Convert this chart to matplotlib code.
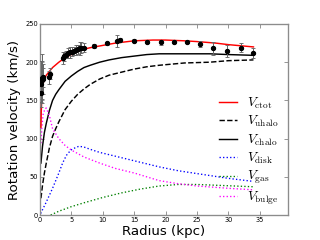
import matplotlib
matplotlib.use('Agg')
import matplotlib.pyplot as plt

plt.rcParams.update({
    'font.family': 'DejaVu Sans',
    'mathtext.fontset': 'cm',
    'axes.edgecolor': '0.55',
    'xtick.color': '0.55',
    'ytick.color': '0.55',
    'xtick.labelcolor': 'black',
    'ytick.labelcolor': 'black',
})

# observed rotation curve (radius kpc, velocity km/s, error)
obs_r = [0.16, 0.22, 0.28, 0.34, 0.42, 0.55, 1.4, 1.6,
         3.6, 3.9, 4.2, 4.5, 4.8, 5.1, 5.4, 5.7, 6.0, 6.3, 6.6, 7.0,
         8.6, 10.6, 12.2, 12.8, 14.9, 17.0, 19.2, 21.3, 23.4, 25.5,
         27.6, 29.8, 32.0, 34.0]
obs_v = [160, 172, 179, 177, 178, 180, 180, 185,
         206, 208, 210, 212, 213, 214, 215, 216, 217, 218, 219, 219,
         221, 225, 228, 229, 228, 227, 226, 227, 227, 224,
         218, 215, 219, 212]
obs_e = [12, 30, 32, 25, 20, 12, 8, 7,
         8, 6, 5, 6, 7, 6, 5, 7, 6, 8, 7, 6,
         3, 2, 8, 3, 2, 2, 3, 2, 2, 4,
         8, 8, 6, 7]

# model components
r_tot = [0.15, 0.2, 0.3, 0.4, 0.6, 1.0, 1.5, 2, 3, 4, 5, 6, 7, 8, 10, 12, 15,
         18, 20, 23, 25, 28, 30, 34]
v_ctot = [115, 135, 155, 167, 176, 183, 188, 193, 200, 206, 210, 214, 217, 219,
          222, 225, 228, 229, 229, 228, 227, 225, 223, 220]

r_halo = [0.15, 0.4, 0.7, 1.0, 1.5, 2, 2.5, 3, 4, 5, 6, 7, 8, 9.5, 11, 13,
          15, 17, 19, 23, 27, 30, 34]
v_uhalo = [22, 39, 55, 68, 88, 103, 113, 122, 138, 149, 158, 165, 171, 178,
           183, 187, 191, 194, 196, 199, 200, 202, 203]
v_chalo = [68, 90, 108, 120, 137, 150, 158, 164, 175, 182, 188, 193, 196, 200,
           203, 206, 208, 210, 211, 211, 211, 210, 209]

r_disk = [0.1, 1, 2, 3, 3.6, 4.2, 4.9, 5.6, 6.2, 7, 8, 9.5, 12, 15, 19, 22,
          26, 30, 34]
v_disk = [2, 17, 35, 55, 68, 78, 85, 88, 90, 89, 86, 82, 77, 71, 63, 58,
          53, 48, 44]

r_gas = [1.7, 3, 5, 7, 10, 13, 16, 19, 22, 25, 28, 31, 34]
v_gas = [0, 5, 11, 16, 23, 29, 34, 38, 40, 40, 39, 38, 37]

r_bulge = [0.15, 0.3, 0.5, 0.8, 1.0, 1.5, 2, 3, 4, 5, 7, 9.5, 12, 15, 19, 22,
           25, 30, 34]
v_bulge = [94, 115, 132, 139, 140, 130, 113, 100, 91, 85, 76, 68, 61, 55, 45,
           41, 38, 35, 33]

fig = plt.figure(figsize=(4, 3), dpi=80)
ax = fig.add_axes([0.125, 0.104, 0.775, 0.796])

ax.errorbar(obs_r, obs_v, yerr=obs_e, fmt='o', color='black', ecolor='0.4',
            elinewidth=0.9, capsize=2, capthick=0.8, markersize=3.8, zorder=5)

ax.plot(r_tot, v_ctot, '-', color='red', lw=1.3, label=r'$V_{\rm ctot}$', zorder=4)
ax.plot(r_halo, v_uhalo, '--', color='black', lw=1.3, label=r'$V_{\rm uhalo}$')
ax.plot(r_halo, v_chalo, '-', color='black', lw=1.3, label=r'$V_{\rm chalo}$')
ax.plot(r_disk, v_disk, ':', color='blue', lw=1.2, label=r'$V_{\rm disk}$')
ax.plot(r_gas, v_gas, ':', color='green', lw=1.2, label=r'$V_{\rm gas}$')
ax.plot(r_bulge, v_bulge, ':', color='magenta', lw=1.2, label=r'$V_{\rm bulge}$')

ax.set_xlim(0, 39.5)
ax.set_ylim(0, 250)
ax.set_xticks(range(0, 40, 5))
ax.set_yticks(range(0, 251, 50))
ax.tick_params(direction='in', top=True, right=True, length=4, width=0.8,
               labelsize=6, pad=2)
for s in ax.spines.values():
    s.set_linewidth(1.2)

ax.set_xlabel('Radius (kpc)', fontsize=12, labelpad=2)
ax.set_ylabel('Rotation velocity (km/s)', fontsize=12, labelpad=4)

ax.legend(loc='lower right', bbox_to_anchor=(1.01, -0.02), frameon=False,
          fontsize=12, handlelength=1.4, labelspacing=0.24, handletextpad=0.7)

fig.savefig('out.png', dpi=80)
